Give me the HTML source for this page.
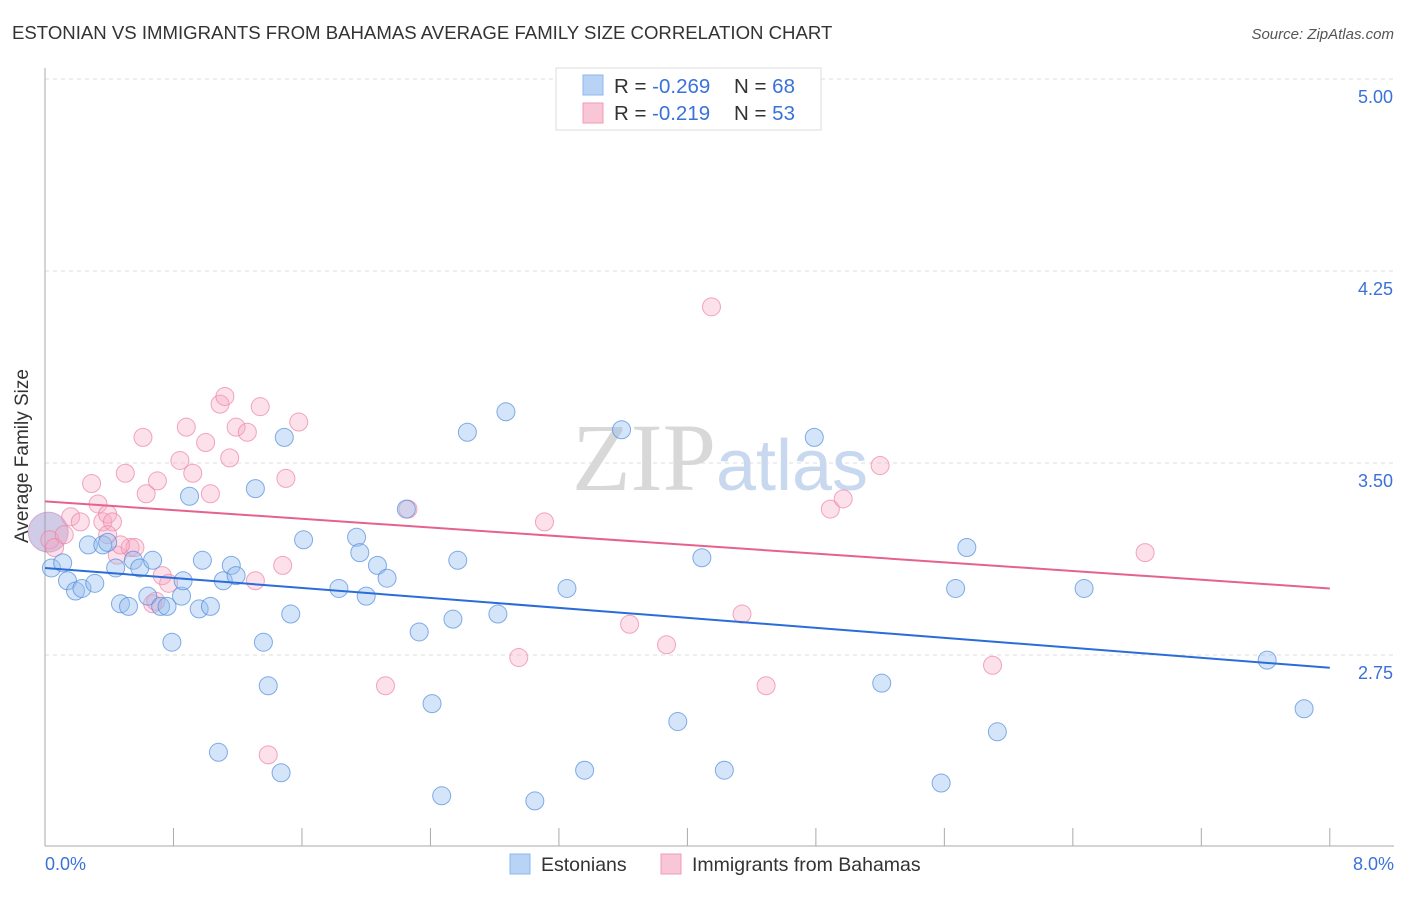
<!DOCTYPE html>
<html><head><meta charset="utf-8"><style>
body{margin:0;background:#fff;font-family:"Liberation Sans",sans-serif;}
svg text{font-family:"Liberation Sans",sans-serif;}
</style></head><body>
<svg width="1406" height="892" viewBox="0 0 1406 892" xmlns="http://www.w3.org/2000/svg">
<text x="12" y="39" font-size="18.6" fill="#333">ESTONIAN VS IMMIGRANTS FROM BAHAMAS AVERAGE FAMILY SIZE CORRELATION CHART</text>
<text x="1394" y="39" font-size="15" fill="#555" text-anchor="end" font-style="italic">Source: ZipAtlas.com</text>
<g id="grid"></g>
<text x="720" y="490" font-size="96" fill="#ddd" text-anchor="middle" font-family="Liberation Serif"><tspan fill="#d8d8d8" font-family="Liberation Serif">ZIP</tspan><tspan fill="#c8d8ee" font-size="72" font-family="Liberation Sans">atlas</tspan></text>
<line x1="45" y1="68" x2="45" y2="846" stroke="#aaa"/>
<line x1="45" y1="846" x2="1394" y2="846" stroke="#aaa"/>
<g id="xticks"></g>
<text x="28" y="456" font-size="19" fill="#333" text-anchor="middle" transform="rotate(-90 28 456)">Average Family Size</text>
<text x="45" y="870" font-size="18" fill="#3a72d8">0.0%</text>
<text x="1394" y="870" font-size="18" fill="#3a72d8" text-anchor="end">8.0%</text>
<g id="pts"></g>
<g id="lines"></g>
<g>
<rect x="556" y="68" width="265" height="62" fill="#fff" stroke="#ddd"/>
<rect x="583" y="75" width="20" height="20" fill="#b9d3f7" stroke="#8fb4ee"/>
<rect x="583" y="103" width="20" height="20" fill="#f9c6d5" stroke="#f09ab6"/>
<text x="614" y="93" font-size="20.5" fill="#333">R = <tspan fill="#3a72d8">-0.269</tspan><tspan x="734">N = </tspan><tspan fill="#3a72d8">68</tspan></text>
<text x="614" y="120" font-size="20.5" fill="#333">R =  <tspan fill="#3a72d8" x="652">-0.219</tspan><tspan x="734">N = </tspan><tspan fill="#3a72d8">53</tspan></text>
</g>
<g>
<rect x="510" y="854" width="20" height="20" fill="#b9d3f7" stroke="#8fb4ee"/>
<text x="541" y="871" font-size="19.5" fill="#333">Estonians</text>
<rect x="661" y="854" width="20" height="20" fill="#f9c6d5" stroke="#f09ab6"/>
<text x="692" y="871" font-size="19.5" fill="#333">Immigrants from Bahamas</text>
</g>
</svg>
<script>
const yTicks=[5.00,4.25,3.50,2.75];
const xTicks=[0.8,1.6,2.4,3.2,4.0,4.8,5.6,6.4,7.2,8.0];
const blueX=[0.04,0.11,0.14,0.19,0.23,0.31,0.27,0.36,0.39,0.44,0.47,0.52,0.55,0.59,0.67,0.64,0.72,0.76,0.79,0.85,0.86,0.90,0.96,1.03,0.98,1.11,1.16,1.19,1.31,1.36,1.39,1.49,1.47,1.53,1.61,1.08,1.83,1.94,1.96,2.00,2.07,2.13,2.25,2.33,2.41,2.47,2.54,2.57,2.63,2.82,2.87,3.05,3.25,3.36,3.59,3.94,4.09,4.23,4.79,5.21,5.58,5.67,5.74,5.93,6.47,7.61,7.84];
const blueY=[3.09,3.11,3.04,3.00,3.01,3.03,3.18,3.18,3.19,3.09,2.95,2.94,3.12,3.09,3.12,2.98,2.94,2.94,2.80,2.98,3.04,3.37,2.93,2.94,3.12,3.04,3.10,3.06,3.40,2.80,2.63,3.60,2.29,2.91,3.20,2.37,3.01,3.21,3.15,2.98,3.10,3.05,3.32,2.84,2.56,2.20,2.89,3.12,3.62,2.91,3.70,2.18,3.01,2.30,3.63,2.49,3.13,2.30,3.60,2.64,2.25,3.01,3.17,2.45,3.01,2.73,2.54];
const pinkX=[0.03,0.06,0.12,0.16,0.22,0.29,0.33,0.36,0.39,0.42,0.39,0.45,0.50,0.53,0.56,0.61,0.63,0.67,0.70,0.73,0.77,0.84,0.88,0.92,1.00,1.03,1.09,1.12,1.15,1.19,1.26,1.34,1.31,1.39,1.48,1.50,1.58,2.12,2.26,2.95,3.11,3.64,3.87,4.15,4.34,4.49,4.89,4.97,5.20,5.90,6.85,0.69,0.47];
const pinkY=[3.20,3.17,3.22,3.29,3.27,3.42,3.34,3.27,3.30,3.27,3.22,3.14,3.46,3.17,3.17,3.60,3.38,2.95,3.43,3.06,3.03,3.51,3.64,3.46,3.58,3.38,3.73,3.76,3.52,3.64,3.62,3.72,3.04,2.36,3.10,3.44,3.66,2.63,3.32,2.74,3.27,2.87,2.79,4.11,2.91,2.63,3.32,3.36,3.49,2.71,3.15,2.96,3.18];
const blueFit=[3.09,2.70];
const pinkFit=[3.35,3.01];
const NS='http://www.w3.org/2000/svg';
const X=v=>45+v*160.6, Y=v=>79+(5-v)*256;
function mk(t,a,p){const e=document.createElementNS(NS,t);for(const k in a)e.setAttribute(k,a[k]);p.appendChild(e);return e;}
const grid=document.getElementById('grid');
yTicks.forEach(t=>{
 const l=mk('line',{x1:45,x2:1394,y1:Y(t),y2:Y(t),stroke:'#ddd','stroke-dasharray':'4 4'},grid);
 
 
 const tx=mk('text',{x:1393,y:Y(t)+24,'font-size':18,fill:'#3a72d8','text-anchor':'end'},grid);
 tx.textContent=t.toFixed(2);
 
 
});
const xt=document.getElementById('xticks');
xTicks.forEach(v=>{
 const l=mk('line',{x1:X(v),x2:X(v),y1:828,y2:846,stroke:'#aaa'},xt);
 
 
});
const pts=document.getElementById('pts');
const big=mk('circle',{cx:X(0.02),cy:Y(3.23),r:20,fill:'rgba(150,140,200,0.45)',stroke:'rgba(190,120,170,0.5)'},pts);


pinkX.forEach((v,i)=>{
 const c=mk('circle',{cx:X(v),cy:Y(pinkY[i]),r:9,fill:'rgba(247,170,195,0.35)',stroke:'rgba(236,130,165,0.7)','stroke-width':1},pts);
 
 
});
blueX.forEach((v,i)=>{
 const c=mk('circle',{cx:X(v),cy:Y(blueY[i]),r:9,fill:'rgba(150,190,240,0.4)',stroke:'rgba(80,140,220,0.7)','stroke-width':1},pts);
 
 
});
const ln=document.getElementById('lines');
const b=mk('line',{x1:X(0),y1:Y(blueFit[0]),x2:X(8),y2:Y(blueFit[1]),stroke:'#2a6dd8','stroke-width':2},ln);


const p=mk('line',{x1:X(0),y1:Y(pinkFit[0]),x2:X(8),y2:Y(pinkFit[1]),stroke:'#e5628e','stroke-width':2},ln);


</script>
</body></html>
